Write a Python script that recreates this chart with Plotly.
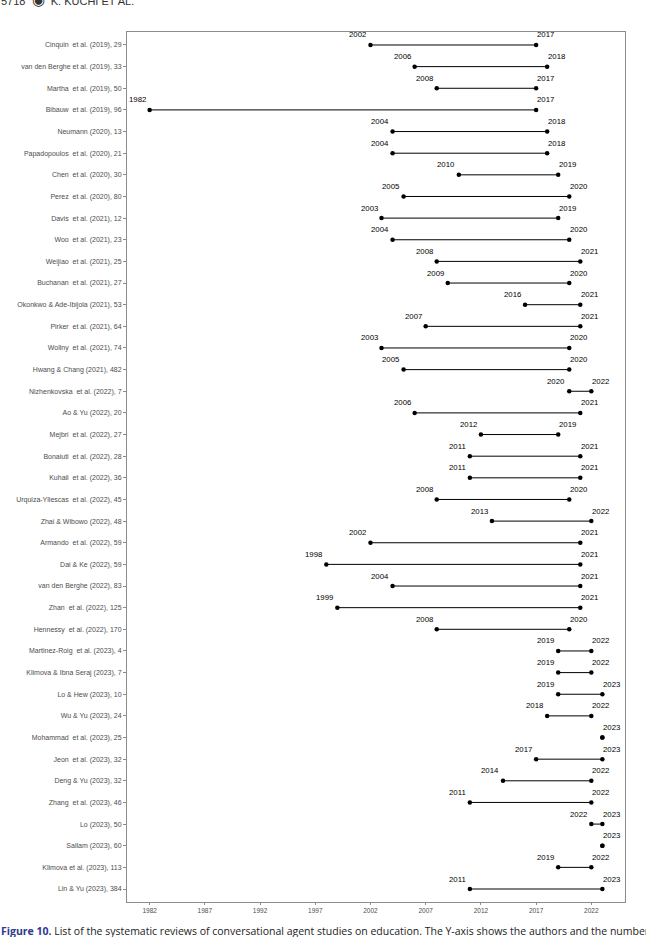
import plotly.graph_objects as go

studies = [
    "Cinquin  et al. (2019), 29", "van den Berghe et al. (2019), 33", "Martha  et al. (2019), 50",
    "Bibauw  et al. (2019), 96", "Neumann (2020), 13", "Papadopoulos  et al. (2020), 21",
    "Chen  et al. (2020), 30", "Perez  et al. (2020), 80", "Davis  et al. (2021), 12",
    "Woo  et al. (2021), 23", "Weijiao  et al. (2021), 25", "Buchanan  et al. (2021), 27",
    "Okonkwo & Ade-Ibijola (2021), 53", "Pirker  et al. (2021), 64", "Wollny  et al. (2021), 74",
    "Hwang & Chang (2021), 482", "Nizhenkovska  et al. (2022), 7", "Ao & Yu (2022), 20",
    "Mejbri  et al. (2022), 27", "Bonaiuti  et al. (2022), 28", "Kuhail  et al. (2022), 36",
    "Urquiza-Yllescas  et al. (2022), 45", "Zhai & Wibowo (2022), 48", "Armando  et al. (2022), 59",
    "Dai & Ke (2022), 59", "van den Berghe (2022), 83", "Zhan  et al. (2022), 125",
    "Hennessy  et al. (2022), 170", "Martinez-Roig  et al. (2023), 4", "Klimova & Ibna Seraj (2023), 7",
    "Lo & Hew (2023), 10", "Wu & Yu (2023), 24", "Mohammad  et al. (2023), 25",
    "Jeon  et al. (2023), 32", "Deng & Yu (2023), 32", "Zhang  et al. (2023), 46",
    "Lo (2023), 50", "Sallam (2023), 60", "Klimova et al. (2023), 113", "Lin & Yu (2023), 384",
]
start_year = [2002, 2006, 2008, 1982, 2004, 2004, 2010, 2005, 2003, 2004, 2008, 2009, 2016, 2007,
              2003, 2005, 2020, 2006, 2012, 2011, 2011, 2008, 2013, 2002, 1998, 2004, 1999, 2008,
              2019, 2019, 2019, 2018, 2023, 2017, 2014, 2011, 2022, 2023, 2019, 2011]
end_year = [2017, 2018, 2017, 2017, 2018, 2018, 2019, 2020, 2019, 2020, 2021, 2020, 2021, 2021,
            2020, 2020, 2022, 2021, 2019, 2021, 2021, 2020, 2022, 2021, 2021, 2021, 2021, 2020,
            2022, 2022, 2023, 2022, 2023, 2023, 2022, 2022, 2023, 2023, 2022, 2023]
x_ticks = [1982, 1987, 1992, 1997, 2002, 2007, 2012, 2017, 2022]

rows = list(range(len(studies)))

seg_x, seg_y = [], []
for i, (s, e) in enumerate(zip(start_year, end_year)):
    seg_x += [s, e, None]
    seg_y += [i, i, None]

fig = go.Figure()
fig.add_trace(go.Scatter(x=seg_x, y=seg_y, mode="lines",
                         line=dict(color="black", width=1), hoverinfo="skip", showlegend=False))
fig.add_trace(go.Scatter(x=start_year + end_year, y=rows + rows, mode="markers",
                         marker=dict(color="black", size=4.5), showlegend=False))

FONT = "Liberation Sans"
font_lbl = dict(family=FONT, size=7.8, color="black")
for i, (s, e) in enumerate(zip(start_year, end_year)):
    if s != e:
        fig.add_annotation(x=s, y=i, text=str(s), showarrow=False, xanchor="right",
                           yanchor="bottom", xshift=-2, yshift=3.5, font=font_lbl)
    fig.add_annotation(x=e, y=i, text=str(e), showarrow=False, xanchor="left",
                       yanchor="bottom", xshift=-1, yshift=3.5, font=font_lbl)

# page header (cut off) and caption
fig.add_annotation(xref="paper", yref="paper", x=-0.257, y=1.0377, xanchor="left", yanchor="middle",
                   text="5718  <span style='font-size:15px'>\u25c9</span>  K. KUCHI ET AL.", showarrow=False,
                   font=dict(family=FONT, size=11, color="#333333"))
fig.add_annotation(xref="paper", yref="paper", x=-0.257, y=-0.0333, xanchor="left", yanchor="middle",
                   text="<b><span style='color:#2b3a8f'>Figure 10.</span></b> List of the systematic reviews of conversational agent studies on education. The Y-axis shows the authors and the number of studies",
                   showarrow=False, align="left",
                   font=dict(family="Open Sans", size=10.5, color="#222222"))

fig.update_layout(
    width=646, height=937,
    margin=dict(l=127, r=21, t=32, b=35),
    plot_bgcolor="white", paper_bgcolor="white",
    xaxis=dict(range=[1979.95, 2025.05], tickvals=x_ticks, ticktext=[str(t) for t in x_ticks],
               showgrid=False, zeroline=False, showline=True, mirror=True, linecolor="#8c8c8c",
               linewidth=1, ticks="outside", ticklen=2, tickcolor="#8c8c8c",
               tickfont=dict(family=FONT, size=6.5, color="#4d4d4d")),
    yaxis=dict(range=[len(studies) - 0.4, -0.6], tickvals=rows, ticktext=studies,
               showgrid=False, zeroline=False, showline=True, mirror=True, linecolor="#8c8c8c",
               linewidth=1, ticks="outside", ticklen=3, tickcolor="#8c8c8c",
               tickfont=dict(family=FONT, size=7, color="#4d4d4d")),
)

fig.write_html("out.html", config={"displayModeBar": False},
               post_script="document.body.style.margin='0px';")
